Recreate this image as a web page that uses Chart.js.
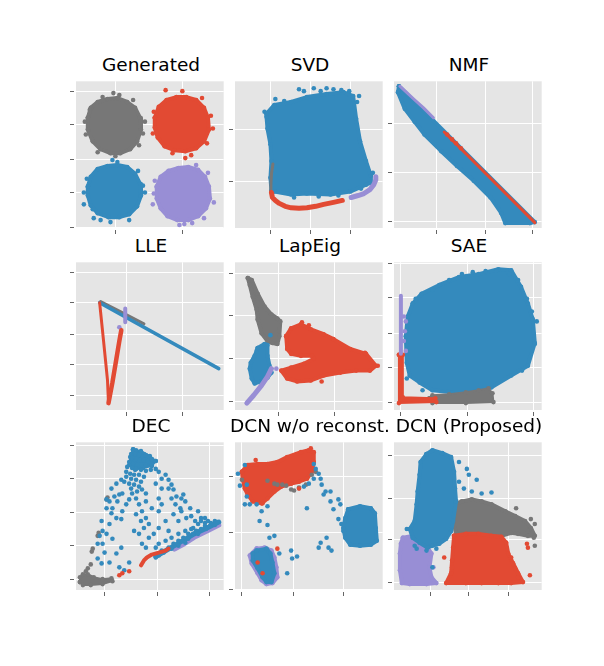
<!DOCTYPE html>
<html>
<head>
<meta charset="utf-8">
<script src="https://cdn.jsdelivr.net/npm/chart.js@4.4.1/dist/chart.umd.min.js"></script>
<style>
  body { margin: 0; background: #fff; width: 604px; height: 666px; position: relative; overflow: hidden; }
  .panel { position: absolute; }
  .title { position: absolute; width: 220px; text-align: center; font-family: "DejaVu Sans", sans-serif; font-size: 18.5px; line-height: 22px; color: #000; white-space: nowrap; }
</style>
</head>
<body>
<script>
// all values are in panel units (x from the left edge, y from the bottom edge)

// Generated
const genGray = [[12,112],[15,122],[22,128],[32,131],[42,132],[52,128],[60,122],[65,112],[66,100],[62,88],[55,80],[45,76],[35,76],[25,80],[17,88],[12,100]];
const genGrayOut = [[9,108],[38,137],[44,135],[70,108],[68,96],[22,77],[40,73],[10,95],[58,130],[27,133],[64,84],[14,120]];
const genRed = [[80,112],[84,123],[92,130],[102,133],[112,133],[122,130],[130,122],[134,112],[135,100],[130,88],[122,81],[111,78],[100,79],[90,83],[83,92],[80,102]];
const genRedOut = [[91,140],[108,139],[139,101],[137,114],[98,76],[117,74],[111,71],[79,118],[128,132],[78,96],[133,86]];
const genBlue = [[12,42],[15,52],[22,60],[32,63],[42,64],[52,62],[60,55],[65,45],[66,33],[62,22],[54,14],[44,11],[33,11],[22,15],[15,23],[12,33]];
const genBlueOut = [[8,24],[8,36],[17,19],[25,8],[35,6],[54,8],[70,36],[68,43],[37,69],[42,67],[18,10],[63,58],[11,50]];
const genPurple = [[82,42],[86,52],[94,58],[104,61],[114,62],[124,59],[131,52],[135,42],[136,30],[132,20],[124,12],[114,8],[103,8],[93,12],[86,20],[82,30]];
const genPurpleOut = [[79,35],[140,26],[130,10],[110,4],[118,5],[105,3],[122,64],[78,24],[134,56],[80,48]];

// SVD
const svdBlue = [[32,116],[40,125],[57,128],[73,133],[93,136],[110,138],[120,134],[123,111],[127,88],[133,68],[138,53],[138,46],[133,44],[117,37],[97,34],[73,35],[57,34],[40,37],[37,38],[36,51],[37,68],[36,85],[33,101],[32,113]];
const svdBlueOut = [[65,141],[80,142],[93,142],[100,141],[108,140],[126,134],[41,131],[50,129],[140,56],[128,40],[60,31],[85,32],[105,33],[30,118],[124,128],[70,139],[87,139],[116,139]];
const svdGray = [[38.5,65],[37,55],[36.5,45],[36.5,38]];
const svdRed = [[37,36],[38,31],[41,28],[45,25],[51,22],[57,20.5],[65,20],[73,20.5],[82,22],[90,24],[100,26],[109,28]];
const svdPurple = [[118,31],[125,33],[131,35],[137,39],[141,44],[143,49],[143,52]];

// NMF
const nmfBlue = [[5,144],[143,6],[138,5],[113,5],[109,15],[98,31],[81,48],[64,63],[48,78],[31,95],[21,108],[11,121],[4,138]];
const nmfPurple = [[6,144],[20,131],[30,122],[40,112]];
const nmfRed = [[51,97.5],[143,5.5]];
const nmfRedDots = [[54,95],[59,90],[63,86],[68,81]];

// LLE
const lleGray = [[25,110],[45,100],[69,87.5]];
const lleBlue = [[24,109],[145,42]];
const llePurple = [[50,103],[50,89]];
const llePurpleDots = [[44,84]];
const lleRedLeft = [[24,109],[28,70],[32,30],[33,7]];
const lleRedRight = [[33,7],[37,28],[41,52],[44,70],[46,81]];

// LapEig
const lapGray = [[13,134],[17,132],[23,118],[30,105],[37,97],[43,93],[46,90],[45,75],[43,67],[38,68],[33,70],[27,78],[23,92],[22,102],[18,115],[15,127]];
const lapBlue = [[23,63],[30,67],[33,66],[33,55],[35,45],[37,38],[33,33],[27,29],[20,27],[17,32],[15,42],[16,48],[20,55],[22,60]];
const lapBlueDots = [[36,76]];
const lapPurple = [[12,7],[19,15],[27,25],[33,34],[37,42]];
const lapPurpleDots = [[42,42]];
const lapRed = [[52,75],[57,83],[67,87],[77,82],[90,77],[100,72],[117,62],[133,57],[143,45],[137,40],[123,40],[107,38],[90,35],[77,30],[63,29],[53,32],[47,40],[57,43],[70,47],[80,52],[78,55],[67,55],[57,57],[53,62]];
const lapRedOut = [[88,29],[145,45],[132,58],[68,89],[75,86]];

// SAE
const saeBlue = [[19,108],[28,118],[46,127],[66,135],[86,138],[106,143],[119,142],[129,125],[136,108],[141,92],[143,68],[136,45],[119,35],[99,23],[79,18],[59,18],[39,20],[26,28],[16,35],[13,48],[12,75],[14,95]];
const saeBlueOut = [[104,142],[69,138],[56,132],[39,122],[13,32],[29,20],[143,67],[135,113],[117,138],[145,90],[22,113],[126,132],[80,140],[93,141],[140,100],[130,40]];
const saeGray = [[36,12],[39,15],[56,16],[73,18],[86,20],[96,22],[100,17],[101,8],[73,7],[39,7]];
const saeRed = [[5,56],[9,56],[9,13],[42,12],[43,8],[5,7]];
const saePurple = [[7,116],[7,57]];
const saePurpleDots = [[10,95],[12,90],[11,80],[10,70],[12,60]];

// DEC
const decGray = [[4,8],[4,13],[7,16],[12,16],[18,13],[27,11],[36,12],[37,9],[27,6],[15,5],[7,5]];
const decGrayDots = [[10,19],[12,22],[15,26],[16,39],[17,42],[22,55],[23,58],[31,92],[32,94]];
const decPurple = [[100,41.5],[110,47],[120,53.5],[135,61],[145,66]];
const decBlueBand = [[81,34],[100,45],[120,57],[135,64],[145,69]];
const decBlueTop = [[58,143],[66,141],[75,136],[81,131],[77,126],[68,124],[60,122],[54,127],[55,135]];
const decBlue = [
  [58,142],[61,142],[66,140],[69,138],[71,137],[74,135],[77,133],[81,131],[56,138],[60,138],[64,137],[68,135],
  [57,134],[61,133],[65,132],[69,132],[73,131],[54,130],[58,128],[62,127],[67,127],[71,127],[77,127],[52,125],
  [57,124],[61,123],[66,122],[71,121],[76,122],[51,120],[55,118],[59,117],[64,117],[69,115],[51,115],[56,113],
  [61,112],[66,110],[49,110],[54,108],[59,107],[64,105],[67,102],[71,98],[62,100],[57,98],
  [46,112],[41,108],[36,103],[31,92],[34,90],[39,95],[44,97],[47,98],[42,90],[37,83],[31,83],[36,78],[41,73],
  [46,72],[47,80],[51,87],[54,92],[26,70],[27,60],[24,55],[31,57],[34,67],[22,47],[27,47],[37,52],[29,38],
  [22,32],[26,27],[34,28],[41,37],[46,43],[44,23],[49,20],[54,28],
  [56,103],[61,93],[64,87],[67,80],[71,73],[61,77],[66,70],[74,67],[69,63],[64,57],[59,60],[74,53],[79,57],
  [81,43],[71,43],[67,47],[84,63],[91,70],[84,80],[77,83],[71,90],[84,93],[87,103],[81,108],[91,117],[94,112],
  [97,107],[87,87],[97,93],[101,87],[99,77],[94,60],[104,70],[107,80],[111,90],[109,97],[116,83],[117,75],
  [121,70],[124,80],[127,73],[131,73],[119,63],[111,60],[104,57],[97,53],[91,50],[84,47],[87,40],
  [127,70],[131,68],[134,70],[137,68],[141,70],[144,69],[124,67],[131,65],[136,65],[141,66],[117,62],[122,60],
  [127,62],[132,62],[114,57],[119,57],[124,57],[109,53],[114,52],[104,50],[99,47],[94,43],[89,38],[84,35],
  [81,33],[104,45],[97,42],[111,48],
  [81,123],[84,120],[87,113],[94,103],[99,102],[102,95],[107,93],[106,83],[112,73]
];
const decRed = [[66,25],[69,30],[72,33],[77,36],[84,38],[91,40],[94,42]];
const decRedDots = [[44,15],[47,17],[54,19]];

// DCN w/o reconst.
const dcnwRed = [[7,120],[13,127],[23,128],[33,128],[43,130],[53,135],[67,140],[75,142],[80,140],[80,130],[78,120],[73,113],[65,110],[57,108],[47,105],[40,100],[33,93],[27,88],[18,90],[13,97],[10,103],[8,112]];
const dcnwGray = [[7,112],[33,111],[40,108],[43,107],[48,107],[57,102],[60,101],[65,104],[72,107],[78,117],[82,120],[52,106]];
const dcnwBlueDots = [
  [10,127],[12,107],[10,87],[15,87],[22,87],[12,95],[33,85],[27,80],[85,118],[87,113],[88,107],[92,100],[97,100],
  [90,97],[97,90],[105,92],[107,87],[100,82],[105,72],[108,67],[110,60],[73,83],[25,70],[33,66],[35,53],[40,55],
  [45,37],[57,40],[58,32],[63,34],[53,17],[87,48],[93,53],[85,43],[95,43],[98,40],[80,128],[82,123],[80,113],
  [75,108],[70,105],[3,118],[5,106]
];
const dcnwBlueCluster = [[115,82],[127,85],[138,83],[142,78],[143,63],[144,50],[138,46],[127,45],[117,46],[112,53],[110,63],[112,73]];
const dcnwPurple = [[22,42],[30,43],[37,40],[40,33],[42,23],[43,13],[38,7],[32,6],[27,10],[23,17],[17,27],[15,35]];
const dcnwBlueSmall = [[22,40],[32,42],[36,37],[38,28],[40,17],[37,8],[32,8],[28,13],[23,22],[18,30],[18,37]];
const dcnwRedDots = [[21,132],[28,88],[65,103],[43,42],[23,28],[28,17],[77,144]];

// DCN (Proposed)
const dcnPurple = [[9,53],[19,55],[28,50],[33,45],[38,37],[36,23],[38,13],[43,7],[33,6],[16,6],[8,7],[6,20],[6,37],[7,47]];
const dcnPurpleDots = [[40,23]];
const dcnGray = [[61,87],[69,90],[79,92],[89,90],[99,87],[113,80],[123,75],[133,70],[139,63],[143,55],[136,55],[126,57],[119,58],[109,55],[99,55],[86,57],[73,57],[63,58],[60,70]];
const dcnGrayDots = [[124,83],[139,72],[143,67],[142,53],[143,45],[136,60]];
const dcnRed = [[61,55],[73,57],[86,57],[99,55],[109,54],[114,48],[116,37],[121,27],[126,17],[131,8],[119,7],[106,7],[89,7],[73,7],[53,7],[58,17],[59,30],[60,43]];
const dcnRedDots = [[51,33],[59,23],[136,43],[135,47],[138,15],[119,33],[123,22],[126,13]];
const dcnBlue = [[33,138],[39,142],[49,139],[58,135],[61,120],[62,103],[63,90],[60,70],[58,60],[53,52],[46,47],[39,45],[34,43],[26,48],[19,53],[16,62],[21,70],[23,87],[24,100],[26,117],[27,130]];
const dcnBlueDots = [[66,130],[74,123],[76,117],[66,110],[84,112],[89,98],[99,99],[71,103],[79,100],[13,62],[21,45],[23,42],[33,40],[43,42],[39,23]];

const COLORS = { gray: '#777777', red: '#E24A33', blue: '#348ABD', purple: '#988ED5' };

// layers listed bottom to top: [points, colour, kind, line width]
const panels = [
  { title: 'Generated', left: 76, top: 79, w: 150, h: 149, xt: [40,108], yt: [139,105,70,36,1],
    layers: [[genGray,'gray','cloud'],[genGrayOut,'gray','dots'],[genRed,'red','cloud'],[genRedOut,'red','dots'],
             [genBlue,'blue','cloud'],[genBlueOut,'blue','dots'],[genPurple,'purple','cloud'],[genPurpleOut,'purple','dots']] },
  { title: 'SVD', left: 235, top: 79, w: 150, h: 149, xt: [36,77,117], yt: [100,47],
    layers: [[svdBlue,'blue','cloud'],[svdBlueOut,'blue','dots'],[svdGray,'gray','band',3],[svdRed,'red','band',5],[svdPurple,'purple','band',5]] },
  { title: 'NMF', left: 394, top: 79, w: 150, h: 149, xt: [43,93,141], yt: [106,56,7],
    layers: [[nmfBlue,'blue','cloud'],[nmfPurple,'purple','band',3],[nmfRed,'red','band',3],[nmfRedDots,'red','dots']] },
  { title: 'LLE', left: 76, top: 260, w: 150, h: 150, xt: [51,108], yt: [140,109,77,46,15],
    layers: [[lleGray,'gray','band',3],[lleBlue,'blue','band',3.5],[llePurple,'purple','band',4],[llePurpleDots,'purple','dots'],
             [lleRedLeft,'red','band',3],[lleRedRight,'red','band',4.5]] },
  { title: 'LapEig', left: 235, top: 260, w: 150, h: 150, xt: [44,101], yt: [139,96,52,9],
    layers: [[lapGray,'gray','cloud'],[lapBlueDots,'blue','dots'],[lapBlue,'blue','cloud'],[lapPurple,'purple','band',5],[lapPurpleDots,'purple','dots'],
             [lapRed,'red','cloud'],[lapRedOut,'red','dots']] },
  { title: 'SAE', left: 394, top: 260, w: 150, h: 150, xt: [7,75,142], yt: [149,114,78,43,8],
    layers: [[saeBlue,'blue','cloud'],[saeBlueOut,'blue','dots'],[saeGray,'gray','cloud',2],[saeRed,'red','cloud',2],[saePurple,'purple','band',4],[saePurpleDots,'purple','dots']] },
  { title: 'DEC', left: 76, top: 440, w: 150, h: 150, xt: [29,83,136], yt: [147,113,79,45,11],
    layers: [[decGray,'gray','cloud',2],[decGrayDots,'gray','dots'],[decPurple,'purple','band',5],[decBlueBand,'blue','band',5],
             [decBlueTop,'blue','cloud',2],[decBlue,'blue','dots'],[decRed,'red','band',4],[decRedDots,'red','dots']] },
  { title: 'DCN w/o reconst.', left: 235, top: 440, w: 150, h: 150, xt: [7,59,110], yt: [115,58,1],
    layers: [[dcnwRed,'red','cloud'],[dcnwGray,'gray','dots'],[dcnwBlueDots,'blue','dots'],[dcnwBlueCluster,'blue','cloud'],
             [dcnwPurple,'purple','cloud'],[dcnwBlueSmall,'blue','cloud'],[dcnwRedDots,'red','dots']] },
  { title: 'DCN (Proposed)', left: 394, top: 440, w: 150, h: 150, xt: [37,76,116], yt: [137,93,51,8],
    layers: [[dcnPurple,'purple','cloud'],[dcnPurpleDots,'purple','dots'],[dcnGray,'gray','cloud'],[dcnGrayDots,'gray','dots'],
             [dcnRed,'red','cloud'],[dcnRedDots,'red','dots'],[dcnBlue,'blue','cloud'],[dcnBlueDots,'blue','dots']] }
];

const TICK = 6;

// grey panel behind the grid, and a small white gap between the panel and its tick marks
const panelBg = {
  id: 'panelBg',
  beforeDraw(chart) {
    const { ctx, chartArea: a } = chart;
    ctx.save();
    ctx.fillStyle = '#E5E5E5';
    ctx.fillRect(a.left, a.top, a.width, a.height);
    ctx.restore();
  },
  beforeDatasetsDraw(chart) {
    const { ctx, chartArea: a } = chart;
    ctx.save();
    ctx.fillStyle = '#fff';
    ctx.fillRect(a.left - 2, a.top, 2, a.height + 2);
    ctx.fillRect(a.left - 2, a.bottom, a.width + 2, 2);
    ctx.restore();
  }
};

function makeDataset(layer, order) {
  const [pts, key, kind, width] = layer;
  const col = COLORS[key];
  const closed = kind === 'cloud' ? pts.concat([pts[0]]) : pts;
  return {
    data: closed.map(p => ({ x: p[0], y: p[1] })),
    order: order,
    showLine: kind !== 'dots',
    fill: kind === 'cloud' ? 'shape' : false,
    borderColor: col,
    backgroundColor: col,
    borderWidth: kind === 'dots' ? 0 : (width || 4),
    borderJoinStyle: 'round',
    borderCapStyle: 'round',
    tension: 0,
    pointRadius: kind === 'band' ? 0 : 2.3,
    pointBackgroundColor: col,
    pointBorderWidth: 0,
    pointHoverRadius: 0
  };
}

function axis(max, ticks) {
  return {
    type: 'linear', min: 0, max: max,
    border: { display: false },
    grid: { color: '#ffffff', lineWidth: 1, tickColor: '#666666', tickLength: TICK, drawTicks: true },
    ticks: { display: false },
    afterBuildTicks: ax => { ax.ticks = ticks.map(v => ({ value: v })); }
  };
}

panels.forEach(p => {
  const t = document.createElement('div');
  t.className = 'title';
  t.textContent = p.title;
  t.style.left = (p.left + p.w / 2 - 110) + 'px';
  t.style.top = (p.top - 25.5) + 'px';
  document.body.appendChild(t);

  const cv = document.createElement('canvas');
  cv.className = 'panel';
  cv.width = p.w + TICK;
  cv.height = p.h + TICK;
  cv.style.left = (p.left - TICK) + 'px';
  cv.style.top = p.top + 'px';
  cv.style.width = (p.w + TICK) + 'px';
  cv.style.height = (p.h + TICK) + 'px';
  document.body.appendChild(cv);

  const n = p.layers.length;
  new Chart(cv, {
    type: 'scatter',
    data: { datasets: p.layers.map((l, i) => makeDataset(l, n - i)) },
    options: {
      responsive: false,
      animation: false,
      devicePixelRatio: 1,
      layout: { padding: 0 },
      events: [],
      plugins: { legend: { display: false }, tooltip: { enabled: false }, title: { display: false } },
      scales: { x: axis(p.w, p.xt), y: axis(p.h, p.yt) }
    },
    plugins: [panelBg]
  });
});
</script>
</body>
</html>
